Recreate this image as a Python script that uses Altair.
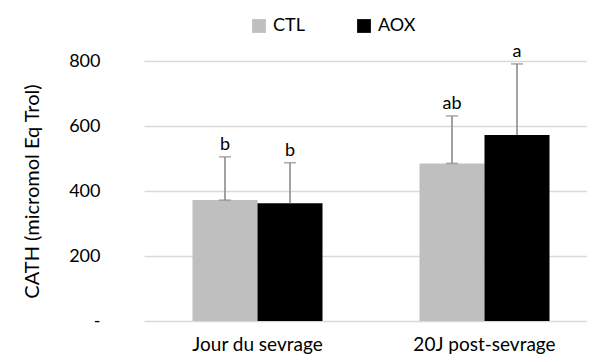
import altair as alt
import pandas as pd

periods = ["Jour du sevrage", "20J post-sevrage"]
groups = ["CTL", "AOX"]
ctl_mean = [372, 485]
aox_mean = [362, 572]
ctl_err = [133, 146]
aox_err = [125, 219]
ctl_letters = ["b", "ab"]
aox_letters = ["b", "a"]
colors = ["#bfbfbf", "#000000"]
y_ticks = [0, 200, 400, 600, 800]

rows = []
for i, p in enumerate(periods):
    rows.append(dict(period=p, group="CTL", mean=ctl_mean[i], top=ctl_mean[i] + ctl_err[i], letter=ctl_letters[i]))
    rows.append(dict(period=p, group="AOX", mean=aox_mean[i], top=aox_mean[i] + aox_err[i], letter=aox_letters[i]))
df = pd.DataFrame(rows)

FONT = "Lato"

x = alt.X("period:N", sort=periods, title=None,
          scale=alt.Scale(paddingInner=0, paddingOuter=0, range=[0, 454]),
          axis=alt.Axis(labelAngle=0, labelFontSize=19, labelColor="#000000", labelFont=FONT,
                        domain=False, ticks=False, grid=False, labelPadding=14))
xo = alt.XOffset("group:N", sort=groups,
                 scale=alt.Scale(paddingInner=0, paddingOuter=0.746))
y_axis = alt.Axis(values=y_ticks, labelExpr="datum.value == 0 ? '-\u00a0\u00a0' : datum.label",
                  labelFontSize=18, labelColor="#000000", labelFont=FONT,
                  domain=False, domainColor="#ffffff", ticks=False, labelPadding=44,
                  gridColor="#d9d9d9", gridWidth=1.5,
                  titleFont=FONT, titleFontSize=20, titleFontWeight="normal",
                  titleColor="#000000", titlePadding=26)
y_scale = alt.Scale(domain=[0, 800], nice=False)
TITLE = "CATH (micromol Eq Trol)"
y = alt.Y("mean:Q", title=TITLE, scale=y_scale, axis=y_axis)
y_top = alt.Y("top:Q", title=TITLE, scale=y_scale, axis=y_axis)

base = alt.Chart(df)

bars = base.mark_bar().encode(
    x=x, xOffset=xo, y=y,
    color=alt.Color("group:N", sort=groups,
                    scale=alt.Scale(domain=groups, range=colors),
                    legend=alt.Legend(title=None, orient="none", direction="horizontal",
                                      legendX=106, legendY=-44, symbolType="square",
                                      symbolSize=190, symbolStrokeWidth=0,
                                      labelFont=FONT, labelFontSize=18, labelColor="#000000",
                                      columnPadding=50, symbolOffset=0, labelOffset=5)),
)

err = base.mark_rule(color="#8c8c8c", strokeWidth=1.6).encode(
    x=x, xOffset=xo, y=y, y2="top:Q")

cap_top = base.mark_tick(color="#8c8c8c", thickness=1.6, size=12).encode(
    x=x, xOffset=xo, y=y_top)

cap_bot = base.transform_filter(alt.datum.group == "CTL").mark_tick(
    color="#8c8c8c", thickness=1.6, size=12).encode(x=x, xOffset=xo, y=y)

txt = base.mark_text(baseline="bottom", dy=-3, font=FONT, fontSize=18, color="#000000").encode(
    x=x, xOffset=xo, y=y_top, text="letter:N")

chart = alt.layer(bars, err, cap_top, cap_bot, txt).properties(
    width=443, height=260,
    background="#ffffff",
    autosize=alt.AutoSizeParams(type="none"),
    padding={"left": 136, "top": 53, "right": 0, "bottom": 33},
).configure_view(stroke="#ffffff", strokeWidth=0, fill="#ffffff").configure_axis(
    domain=False, domainColor="#ffffff", ticks=False
).configure_axisX(grid=False, gridColor="#ffffff").configure_axisY(domain=False, domainColor="#ffffff")

chart.save("out.html", embed_options={"renderer": "svg", "actions": False})
